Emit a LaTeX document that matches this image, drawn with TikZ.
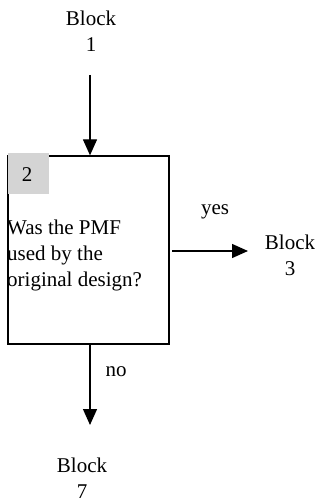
\documentclass[tikz,border=0pt]{standalone}
\usepackage{fontspec}
\setmainfont{Liberation Serif}
\usetikzlibrary{arrows.meta}
\begin{document}
\begin{tikzpicture}[x=1pt,y=-1pt,
  lbl/.style={inner sep=0pt,align=center,font=\fontsize{21}{26}\selectfont},
  arr/.style={line width=1.3pt,-{Triangle[length=16pt,width=14pt]}},
  boxst/.style={draw,line width=1.3pt,minimum width=161pt,minimum height=188pt,inner sep=0pt}]
\useasboundingbox (0,0) rectangle (321,502);
\node[boxst] (box) at (88.5,250) {};
\node[fill=black!17,minimum size=41pt,inner sep=0pt] (num) at (28.5,173.5) {};
\node[lbl] (numt) at (27,175) {2};
\node[lbl,align=left,anchor=west] (q) at (7,255) {Was the PMF\\used by the\\original design?};
\node[lbl] (b1) at (91,31) {Block\\1};
\node[lbl] (b3) at (290,255) {Block\\3};
\node[lbl] (b7) at (82,478) {Block\\7};
\node[lbl] (yes) at (215,212) {yes};
\node[lbl] (no) at (116,372) {no};
\coordinate (t1) at (90,75);
\coordinate (y1) at (172,251);
\coordinate (y2) at (248,251);
\coordinate (n2) at (90,425);
\draw[arr] (t1) -- (t1 |- box.north);
\draw[arr] (y1) -- (y2);
\draw[arr] (n2 |- box.south) -- (n2);
\end{tikzpicture}
\end{document}
